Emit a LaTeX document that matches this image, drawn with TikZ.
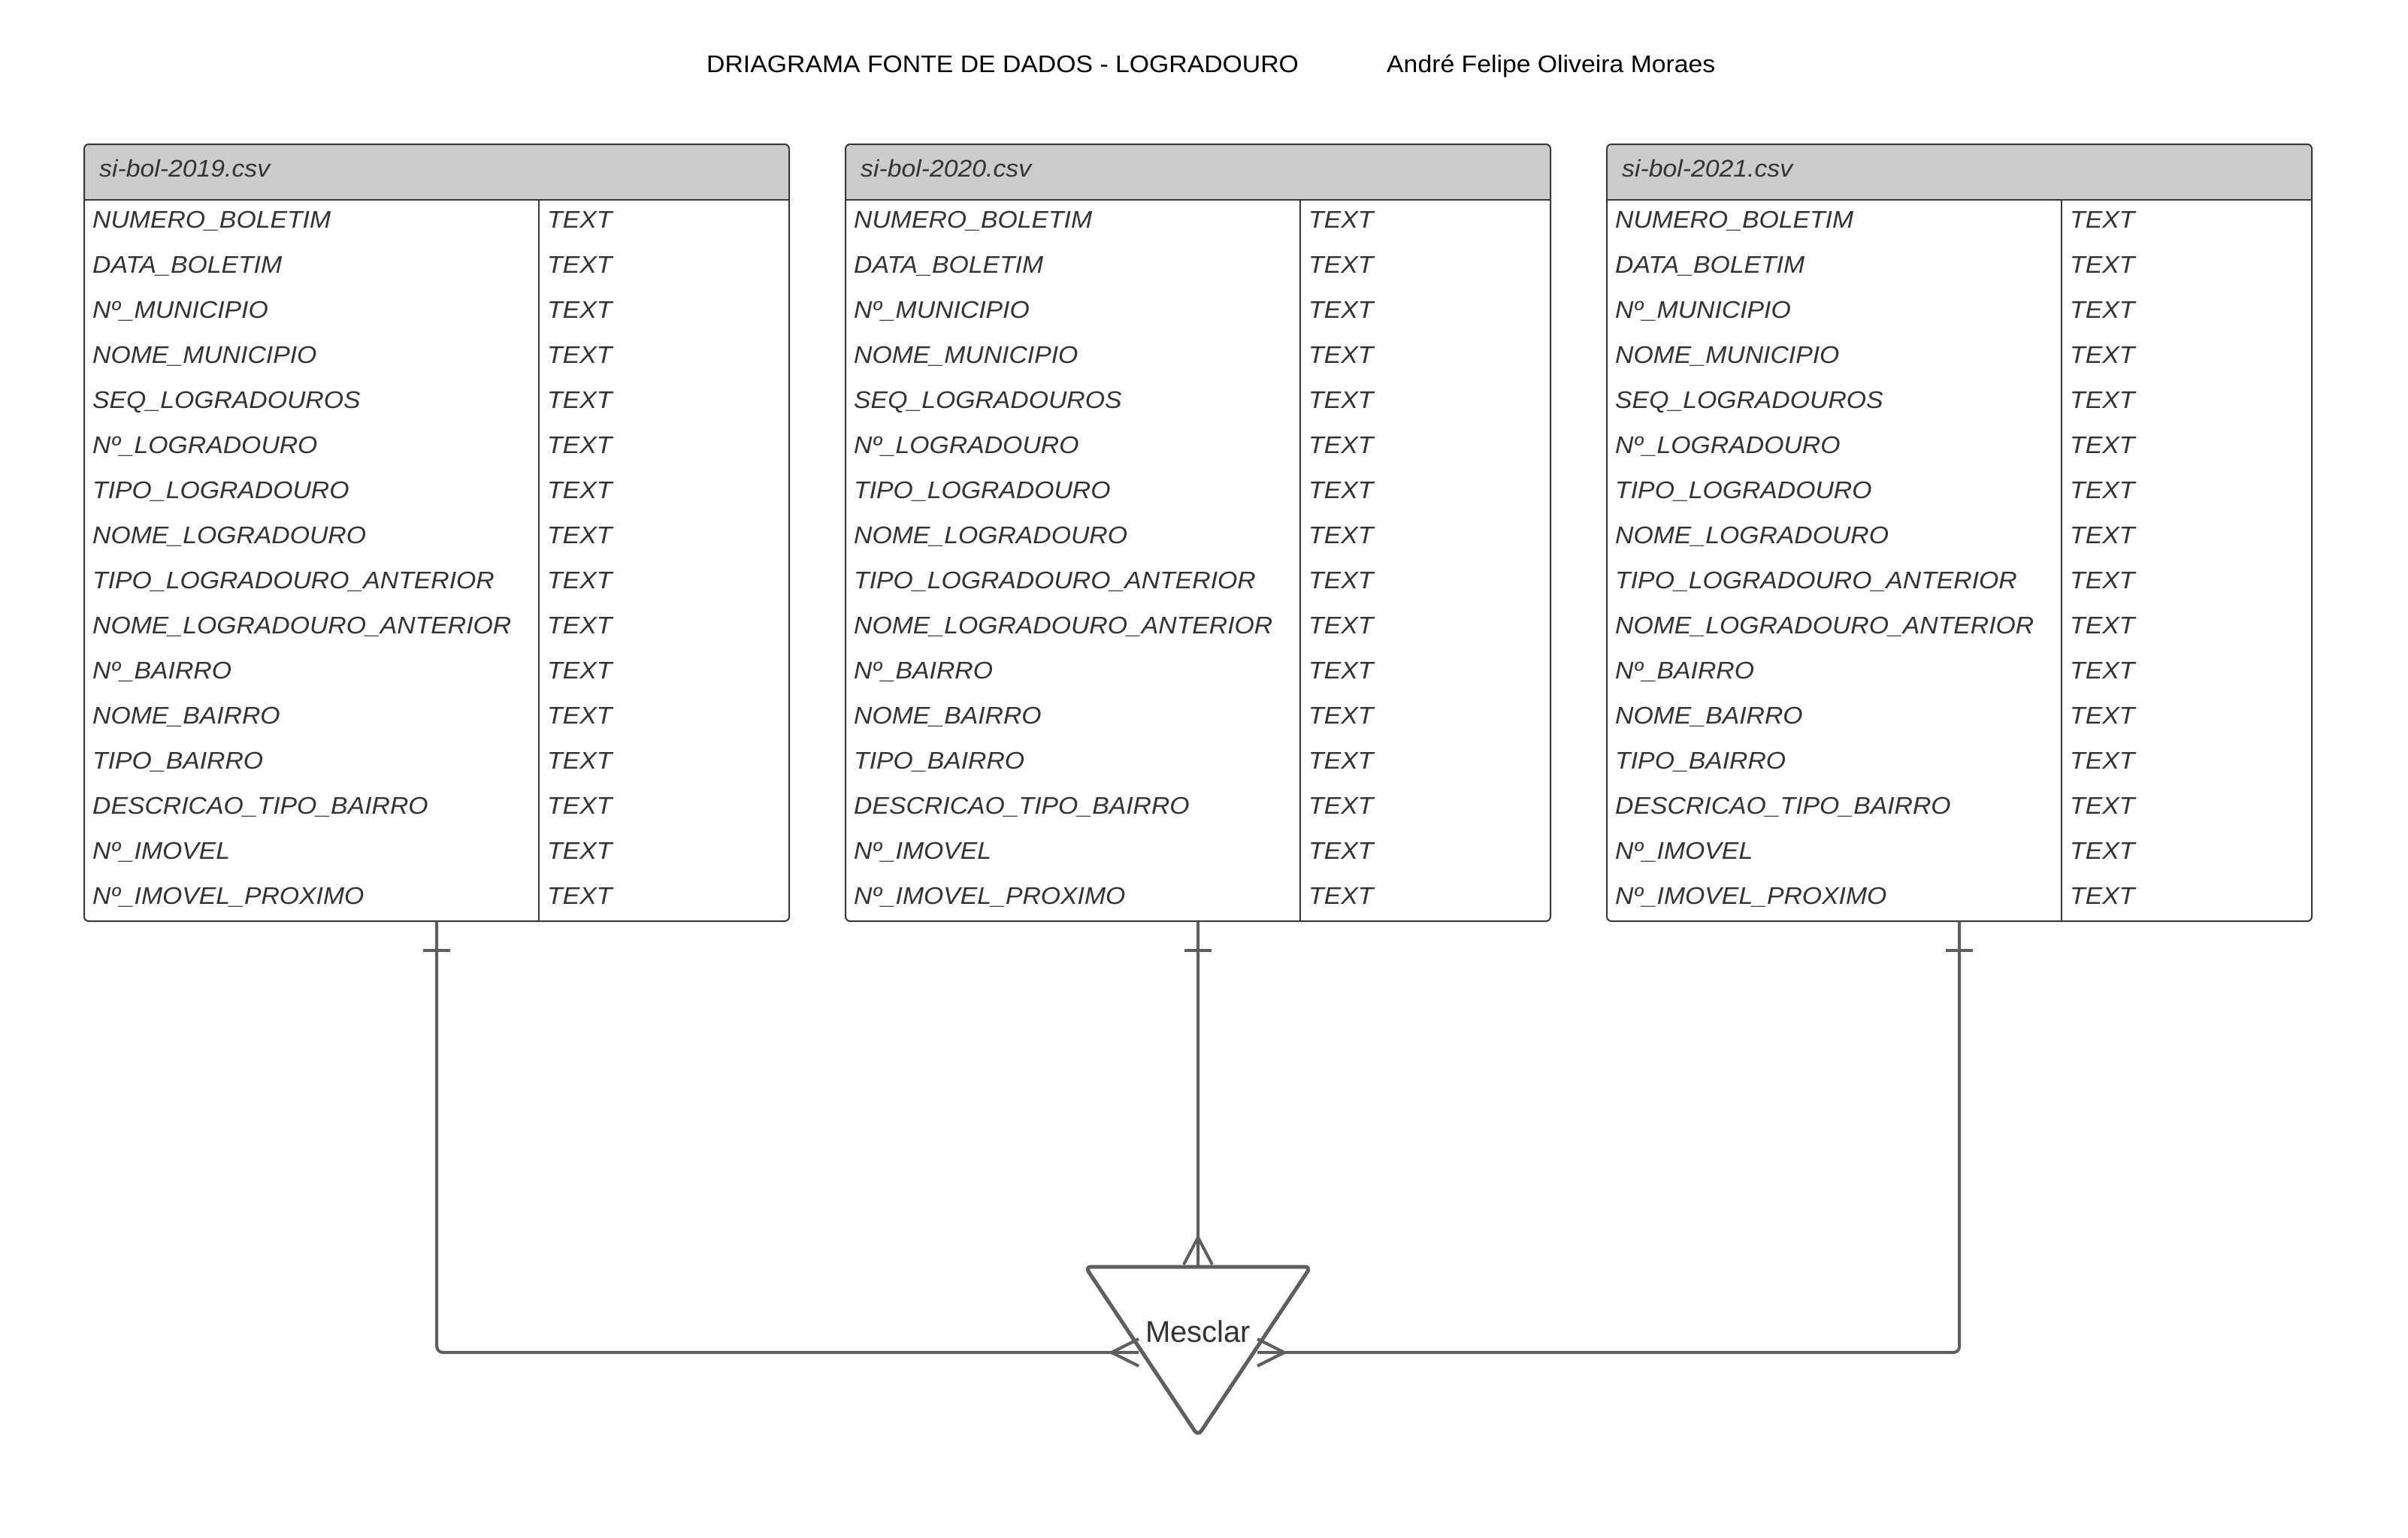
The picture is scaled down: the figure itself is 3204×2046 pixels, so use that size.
\documentclass[tikz,border=0pt]{standalone}
\usepackage{fontspec}
\setmainfont{Liberation Sans}
\newfontfamily\widefont[FakeStretch=1.055]{Liberation Sans}
\definecolor{hdrfill}{HTML}{CCCCCC}
\definecolor{tblline}{HTML}{383838}
\definecolor{txtcol}{HTML}{333333}
\definecolor{conncol}{HTML}{5E5E5E}
\newcommand{\rowsize}{\fontsize{32}{38}\selectfont}
\newcommand{\csvtab}[3]{%
  \begin{scope}
    \clip[rounded corners=6] (#2,192) rectangle ++(938,1034);
    \fill[hdrfill] (#2,192) rectangle ++(938,74);
  \end{scope}
  \draw[tblborder, rounded corners=6] (#2,192) rectangle ++(938,1034);
  \draw[tblborder] (#2,266) -- ++(938,0);
  \draw[tblborder] (#2+605,266) -- (#2+605,1226);
  \node[hdrtxt] (#1h) at (#2+20,235) {#3};
  \node[inner sep=0, minimum width=938, minimum height=1034, anchor=north west] (#1) at (#2,192) {};
  \foreach \f [count=\i] in {NUMERO\_BOLETIM, DATA\_BOLETIM, Nº\_MUNICIPIO, NOME\_MUNICIPIO, SEQ\_LOGRADOUROS, Nº\_LOGRADOURO, TIPO\_LOGRADOURO, NOME\_LOGRADOURO, TIPO\_LOGRADOURO\_ANTERIOR, NOME\_LOGRADOURO\_ANTERIOR, Nº\_BAIRRO, NOME\_BAIRRO, TIPO\_BAIRRO, DESCRICAO\_TIPO\_BAIRRO, Nº\_IMOVEL, Nº\_IMOVEL\_PROXIMO}{
    \node[rowtxt] (#1f\i) at (#2+11,243+60*\i) {\f};
    \node[rowtxt] (#1t\i) at (#2+616,243+60*\i) {TEXT};
  }
}
\begin{document}
\begin{tikzpicture}[x=1pt,y=-1pt,
  tblborder/.style={draw=tblline, line width=2},
  hdrtxt/.style={anchor=base west, inner sep=0, text=txtcol, font=\widefont\rowsize\itshape},
  rowtxt/.style={anchor=base west, inner sep=0, text=txtcol, font=\widefont\rowsize\itshape},
  conn/.style={draw=conncol, line width=4, line cap=butt},
  crow/.style={draw=conncol, line width=4, line join=miter},
  titletxt/.style={anchor=base west, inner sep=0, text=black, font=\widefont\fontsize{32}{38}\selectfont}]
\useasboundingbox[fill=white] (0,0) rectangle (3204,2046);

\node[titletxt] (title) at (940,96) {DRIAGRAMA FONTE DE DADOS - LOGRADOURO};
\node[titletxt] (author) at (1845,96) {André Felipe Oliveira Moraes};

\csvtab{ta}{112}{si-bol-2019.csv}
\csvtab{tb}{1125}{si-bol-2020.csv}
\csvtab{tc}{2138}{si-bol-2021.csv}

% Mesclar triangle
\draw[draw=conncol, line width=5, fill=white, rounded corners=8] (1444,1686) -- (1744,1686) -- (1594,1911) -- cycle;
\node[inner sep=0, text=txtcol, font=\fontsize{40}{46}\selectfont] (mesclar) at (1594,1772) {Mesclar};
\coordinate (mL) at (1515,1800);
\coordinate (mR) at (1673,1800);
\coordinate (mT) at (1594,1686);

% connectors
\draw[conn, rounded corners=8] (ta.south) |- (mL);
\draw[conn, rounded corners=8] (tc.south) |- (mR);
\draw[conn] (tb.south) -- (mT);

% one marks
\foreach \t in {ta,tb,tc}{
  \draw[conn] ([xshift=-18,yshift=-39]\t.south) -- ([xshift=18,yshift=-39]\t.south);
}
% crow's feet
\draw[crow] ([yshift=-18]mL) -- ([xshift=-36]mL) -- ([yshift=18]mL);
\draw[crow] ([yshift=-18]mR) -- ([xshift=36]mR) -- ([yshift=18]mR);
\draw[crow] ([xshift=-19,yshift=3]mT) -- ([yshift=39]mT) -- ([xshift=19,yshift=3]mT);
\end{tikzpicture}
\end{document}
